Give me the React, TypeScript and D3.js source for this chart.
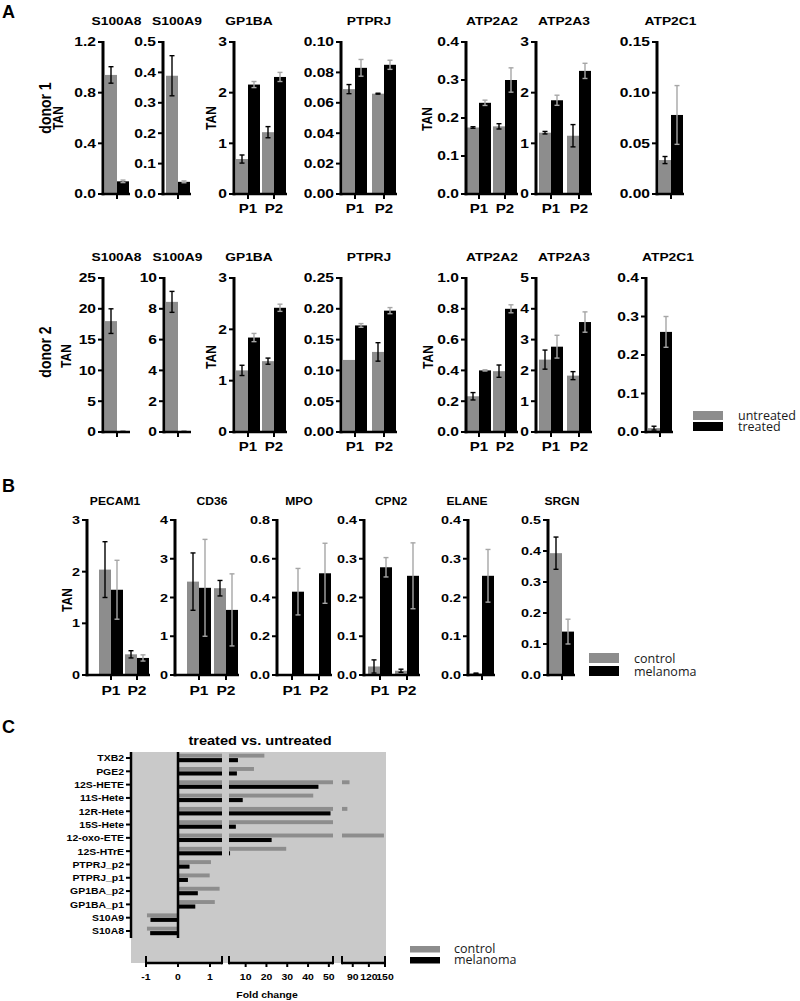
import React from 'react';
import * as d3 from 'd3';

const ARIAL = "'Liberation Sans', Arial, Helvetica, sans-serif";
const SANS = "'Open Sans', 'Liberation Sans', sans-serif";
const GRAY = '#8d8d8d';
const BLACK = '#000000';
const ERR_LIGHT = '#a6a6a6';
const C_BG = '#c9c9c9';

// ---------------- DATA ----------------
const groupsP = ['P1', 'P2'];
const groupsOne = ['pool'];
const seriesA = ['untreated', 'treated'];
const seriesB = ['control', 'melanoma'];

// Panel A, donor 1  (means[group][series], errs[group][series])
const d1S100A8Mean = [[0.94, 0.10]];
const d1S100A8Err = [[0.065, 0.01]];
const d1S100A8Ticks = [0, 0.4, 0.8, 1.2];
const d1S100A9Mean = [[0.389, 0.04]];
const d1S100A9Err = [[0.066, 0.003]];
const d1S100A9Ticks = [0, 0.1, 0.2, 0.3, 0.4, 0.5];
const d1GP1BAMean = [[0.69, 2.16], [1.22, 2.31]];
const d1GP1BAErr = [[0.08, 0.06], [0.11, 0.09]];
const d1GP1BATicks = [0, 1, 2, 3];
const d1PTPRJMean = [[0.069, 0.083], [0.066, 0.085]];
const d1PTPRJErr = [[0.003, 0.0055], [0.0003, 0.003]];
const d1PTPRJTicks = [0, 0.02, 0.04, 0.06, 0.08, 0.10];
const d1ATP2A2Mean = [[0.175, 0.24], [0.178, 0.30]];
const d1ATP2A2Err = [[0.002, 0.007], [0.007, 0.032]];
const d1ATP2A2Ticks = [0, 0.1, 0.2, 0.3, 0.4];
const d1ATP2A3Mean = [[1.21, 1.85], [1.15, 2.43]];
const d1ATP2A3Err = [[0.025, 0.1], [0.22, 0.15]];
const d1ATP2A3Ticks = [0, 1, 2, 3];
const d1ATP2C1Mean = [[0.0335, 0.078]];
const d1ATP2C1Err = [[0.0035, 0.029]];
const d1ATP2C1Ticks = [0, 0.05, 0.10, 0.15];

// Panel A, donor 2
const d2S100A8Mean = [[18.0, 0.15]];
const d2S100A8Err = [[2.0, 0.05]];
const d2S100A8Ticks = [0, 5, 10, 15, 20, 25];
const d2S100A9Mean = [[8.45, 0.06]];
const d2S100A9Err = [[0.68, 0.02]];
const d2S100A9Ticks = [0, 2, 4, 6, 8, 10];
const d2GP1BAMean = [[1.2, 1.84], [1.38, 2.42]];
const d2GP1BAErr = [[0.1, 0.08], [0.06, 0.07]];
const d2GP1BATicks = [0, 1, 2, 3];
const d2PTPRJMean = [[0.117, 0.173], [0.130, 0.197]];
const d2PTPRJErr = [[0, 0.003], [0.015, 0.005]];
const d2PTPRJTicks = [0, 0.05, 0.10, 0.15, 0.20, 0.25];
const d2ATP2A2Mean = [[0.232, 0.40], [0.395, 0.80]];
const d2ATP2A2Err = [[0.024, 0.004], [0.04, 0.026]];
const d2ATP2A2Ticks = [0, 0.2, 0.4, 0.6, 0.8, 1.0];
const d2ATP2A3Mean = [[2.35, 2.77], [1.83, 3.57]];
const d2ATP2A3Err = [[0.31, 0.37], [0.13, 0.33]];
const d2ATP2A3Ticks = [0, 1, 2, 3, 4, 5];
const d2ATP2C1Mean = [[0.01, 0.26]];
const d2ATP2C1Err = [[0.005, 0.04]];
const d2ATP2C1Ticks = [0, 0.1, 0.2, 0.3, 0.4];

// Panel B
const bPECAM1Mean = [[2.04, 1.65], [0.40, 0.33]];
const bPECAM1Err = [[0.54, 0.57], [0.07, 0.06]];
const bPECAM1Ticks = [0, 1, 2, 3];
const bCD36Mean = [[2.41, 2.25], [2.24, 1.68]];
const bCD36Err = [[0.74, 1.25], [0.2, 0.93]];
const bCD36Ticks = [0, 1, 2, 3, 4];
const bMPOMean = [[0, 0.43], [0, 0.525]];
const bMPOErr = [[0, 0.12], [0, 0.155]];
const bMPOTicks = [0, 0.2, 0.4, 0.6, 0.8];
const bCPN2Mean = [[0.022, 0.278], [0.011, 0.256]];
const bCPN2Err = [[0.017, 0.025], [0.004, 0.085]];
const bCPN2Ticks = [0, 0.1, 0.2, 0.3, 0.4];
const bELANEMean = [[0.004, 0.256]];
const bELANEErr = [[0.001, 0.068]];
const bELANETicks = [0, 0.1, 0.2, 0.3, 0.4];
const bSRGNMean = [[0.393, 0.14]];
const bSRGNErr = [[0.052, 0.04]];
const bSRGNTicks = [0, 0.1, 0.2, 0.3, 0.4, 0.5];

// Panel C (fold change)
const cCats = ['TXB2', 'PGE2', '12S-HETE', '11S-Hete', '12R-Hete', '15S-Hete', '12-oxo-ETE', '12S-HTrE',
  'PTPRJ_p2', 'PTPRJ_p1', 'GP1BA_p2', 'GP1BA_p1', 'S10A9', 'S10A8'];
const cControl = [19, 14, 84, 42.5, 80, 52, 148, 29.5, 1.03, 0.99, 1.3, 1.15, -0.97, -0.97];
const cMelanoma = [6.3, 5.8, 45, 8.6, 50.8, 5.3, 22.5, 2.5, 0.36, 0.31, 0.62, 0.54, -0.86, -0.87];
const cDomain1 = [-1, 1.375];
const cDomain2 = [2, 52];
const cDomain3 = [70, 150];
const cTicks1 = [-1, 0, 1];
const cTicks2 = [10, 20, 30, 40, 50];
const cTicks3 = [90, 120, 150];

// ---------------- HELPERS ----------------
function Txt({ x, y, size, sx = 1, anchor = 'middle', weight = 700, family = ARIAL, rotate = 0, dy, fill = '#000', children }: any) {
  const tf = `translate(${x},${y}) scale(${sx},1)` + (rotate ? ` rotate(${rotate})` : '');
  return (
    <text transform={tf} fontSize={size} fontWeight={weight} fontFamily={family} textAnchor={anchor} dy={dy} fill={fill}>
      {children}
    </text>
  );
}

type Row = { yTop: number; yBase: number; titleY: number; labelY: number; tickSize: number; tickSx: number; titleSize: number; titleSx: number; pSize: number; pSx: number };

function BarChart({ spec, row, series }: any) {
  const { title, x0, inset, step, groups, means, errs, ticks, fmt, titleX } = spec;
  const { yTop, yBase, titleY, labelY, tickSize, tickSx, titleSize, titleSx, pSize, pSx } = row as Row;
  const n = groups.length;
  const bandW = 24;
  const xStart = x0 + inset;
  const L = n * step - (step - bandW);
  const xg = d3.scaleBand<string>().domain(groups).range([xStart, xStart + L]).paddingInner(n > 1 ? (step - bandW) / step : 0).paddingOuter(0);
  const xs = d3.scaleBand<string>().domain(series).range([0, xg.bandwidth()]);
  const y = d3.scaleLinear().domain([0, ticks[ticks.length - 1]]).range([yBase, yTop]);
  const xEnd = xStart + L + 1;
  const f = d3.format(fmt);
  const tx = titleX ?? (x0 + xEnd) / 2;
  return (
    <g>
      <Txt x={tx} y={titleY} size={titleSize} sx={titleSx}>{title}</Txt>
      {groups.map((g: string, gi: number) => series.map((s: string, si: number) => {
        const m = means[gi][si];
        const e = errs[gi][si];
        const bw = xs.bandwidth();
        const bx = (xg(g) as number) + (xs(s) as number);
        const cx = bx + bw / 2;
        return (
          <g key={g + s}>
            <rect x={bx} y={y(m)} width={bw} height={Math.max(0, yBase - y(m))} fill={si === 0 ? GRAY : BLACK} />
            {e > 0 && (
              <g stroke={si === 0 ? '#000' : ERR_LIGHT} strokeWidth={1.4}>
                <line x1={cx} x2={cx} y1={y(Math.max(0, m - e))} y2={y(m + e)} />
                <line x1={cx - 2.5} x2={cx + 2.5} y1={y(m + e)} y2={y(m + e)} />
                <line x1={cx - 2.5} x2={cx + 2.5} y1={y(Math.max(0, m - e))} y2={y(Math.max(0, m - e))} />
              </g>
            )}
          </g>
        );
      }))}
      <line x1={x0} x2={x0} y1={yTop - 1} y2={yBase + 1.25} stroke="#000" strokeWidth={3} />
      <line x1={x0 - 1.5} x2={xEnd} y1={yBase} y2={yBase} stroke="#000" strokeWidth={2.5} />
      {ticks.map((t: number) => (
        <g key={t}>
          <line x1={x0 - 5} x2={x0} y1={y(t)} y2={y(t)} stroke="#000" strokeWidth={2} />
          <Txt x={x0 - 7} y={y(t) + tickSize * 0.36} size={tickSize} sx={tickSx} anchor="end">{f(t)}</Txt>
        </g>
      ))}
      {groups.map((g: string) => {
        const gx = (xg(g) as number) + xg.bandwidth() / 2;
        return (
          <g key={g}>
            <line x1={gx} x2={gx} y1={yBase} y2={yBase + 5} stroke="#000" strokeWidth={2} />
            {n > 1 && <Txt x={gx} y={labelY} size={pSize} sx={pSx}>{g}</Txt>}
          </g>
        );
      })}
    </g>
  );
}

function Legend({ x, y, h, gap, labels, textX, size }: any) {
  return (
    <g>
      {labels.map((l: string, i: number) => (
        <g key={l}>
          <rect x={x} y={y + i * (h + gap)} width={30} height={h} fill={i === 0 ? GRAY : BLACK} />
          <Txt x={textX} y={y + i * (h + gap) + h} size={size} anchor="start" weight={400} family={SANS} fill="#1a1a1a">{l}</Txt>
        </g>
      ))}
    </g>
  );
}

// ---------------- LAYOUT ----------------
const rowA1: Row = { yTop: 42, yBase: 194, titleY: 25, labelY: 213, tickSize: 12, tickSx: 1.3, titleSize: 11.5, titleSx: 1.2, pSize: 12, pSx: 1.25 };
const rowA2: Row = { yTop: 278, yBase: 432, titleY: 261, labelY: 451, tickSize: 12, tickSx: 1.3, titleSize: 11.5, titleSx: 1.2, pSize: 12, pSx: 1.25 };
const rowB: Row = { yTop: 520, yBase: 675, titleY: 505, labelY: 695, tickSize: 11.5, tickSx: 1.25, titleSize: 11.5, titleSx: 1.05, pSize: 12, pSx: 1.3 };

const chartsA1 = [
  { title: 'S100A8', x0: 103, inset: 2, step: 26, groups: groupsOne, means: d1S100A8Mean, errs: d1S100A8Err, ticks: d1S100A8Ticks, fmt: '.1f' },
  { title: 'S100A9', x0: 163, inset: 3, step: 26, groups: groupsOne, means: d1S100A9Mean, errs: d1S100A9Err, ticks: d1S100A9Ticks, fmt: '.1f' },
  { title: 'GP1BA', x0: 234, inset: 2, step: 26, groups: groupsP, means: d1GP1BAMean, errs: d1GP1BAErr, ticks: d1GP1BATicks, fmt: 'd', titleX: 249 },
  { title: 'PTPRJ', x0: 341, inset: 2, step: 29, groups: groupsP, means: d1PTPRJMean, errs: d1PTPRJErr, ticks: d1PTPRJTicks, fmt: '.2f' },
  { title: 'ATP2A2', x0: 466, inset: 1, step: 26, groups: groupsP, means: d1ATP2A2Mean, errs: d1ATP2A2Err, ticks: d1ATP2A2Ticks, fmt: '.1f' },
  { title: 'ATP2A3', x0: 536, inset: 3, step: 28, groups: groupsP, means: d1ATP2A3Mean, errs: d1ATP2A3Err, ticks: d1ATP2A3Ticks, fmt: 'd' },
  { title: 'ATP2C1', x0: 657, inset: 2, step: 26, groups: groupsOne, means: d1ATP2C1Mean, errs: d1ATP2C1Err, ticks: d1ATP2C1Ticks, fmt: '.2f' },
];
const chartsA2 = [
  { title: 'S100A8', x0: 103, inset: 2, step: 26, groups: groupsOne, means: d2S100A8Mean, errs: d2S100A8Err, ticks: d2S100A8Ticks, fmt: 'd' },
  { title: 'S100A9', x0: 164, inset: 2, step: 26, groups: groupsOne, means: d2S100A9Mean, errs: d2S100A9Err, ticks: d2S100A9Ticks, fmt: 'd' },
  { title: 'GP1BA', x0: 234, inset: 2, step: 26, groups: groupsP, means: d2GP1BAMean, errs: d2GP1BAErr, ticks: d2GP1BATicks, fmt: 'd', titleX: 249 },
  { title: 'PTPRJ', x0: 341, inset: 2, step: 29, groups: groupsP, means: d2PTPRJMean, errs: d2PTPRJErr, ticks: d2PTPRJTicks, fmt: '.2f' },
  { title: 'ATP2A2', x0: 466, inset: 1, step: 26, groups: groupsP, means: d2ATP2A2Mean, errs: d2ATP2A2Err, ticks: d2ATP2A2Ticks, fmt: '.1f' },
  { title: 'ATP2A3', x0: 536, inset: 3, step: 28, groups: groupsP, means: d2ATP2A3Mean, errs: d2ATP2A3Err, ticks: d2ATP2A3Ticks, fmt: 'd' },
  { title: 'ATP2C1', x0: 646, inset: 2, step: 26, groups: groupsOne, means: d2ATP2C1Mean, errs: d2ATP2C1Err, ticks: d2ATP2C1Ticks, fmt: '.1f', titleX: 668 },
];
const chartsB = [
  { title: 'PECAM1', x0: 87, inset: 12, step: 26, groups: groupsP, means: bPECAM1Mean, errs: bPECAM1Err, ticks: bPECAM1Ticks, fmt: 'd', titleX: 115 },
  { title: 'CD36', x0: 175, inset: 12, step: 27, groups: groupsP, means: bCD36Mean, errs: bCD36Err, ticks: bCD36Ticks, fmt: 'd', titleX: 212 },
  { title: 'MPO', x0: 277, inset: 3, step: 27, groups: groupsP, means: bMPOMean, errs: bMPOErr, ticks: bMPOTicks, fmt: '.1f', titleX: 299 },
  { title: 'CPN2', x0: 364, inset: 4, step: 27, groups: groupsP, means: bCPN2Mean, errs: bCPN2Err, ticks: bCPN2Ticks, fmt: '.1f', titleX: 391 },
  { title: 'ELANE', x0: 468, inset: 2, step: 26, groups: groupsOne, means: bELANEMean, errs: bELANEErr, ticks: bELANETicks, fmt: '.1f', titleX: 467 },
  { title: 'SRGN', x0: 548, inset: 2, step: 26, groups: groupsOne, means: bSRGNMean, errs: bSRGNErr, ticks: bSRGNTicks, fmt: '.1f', titleX: 562 },
];

// ---------------- PANEL C ----------------
function PanelC() {
  const left = 131, right = 386, top = 752, bottom = 963;
  const s1 = d3.scaleLinear().domain(cDomain1).range([146, 222]);
  const s2 = d3.scaleLinear().domain(cDomain2).range([229, 333]);
  const s3 = d3.scaleLinear().domain(cDomain3).range([342, 385]);
  const yc = d3.scalePoint<string>().domain(cCats).range([758, 931]);
  const pieces = (v: number) => {
    if (v < 0) return [[s1(v), s1(0)]];
    const out = [[s1(0), s1(Math.min(v, cDomain1[1]))]];
    if (v > cDomain2[0]) out.push([s2(cDomain2[0]), s2(Math.min(v, cDomain2[1]))]);
    if (v > cDomain3[0]) out.push([s3(cDomain3[0]), s3(Math.min(v, cDomain3[1]))]);
    return out;
  };
  const segs = [
    { s: s1, d: cDomain1, t: cTicks1 },
    { s: s2, d: cDomain2, t: cTicks2 },
    { s: s3, d: cDomain3, t: cTicks3 },
  ];
  return (
    <g>
      <Txt x={2} y={733} size={18} anchor="start">C</Txt>
      <Txt x={260} y={745} size={13} sx={1.12}>treated vs. untreated</Txt>
      <rect x={left} y={top} width={right - left} height={bottom - top} fill={C_BG} />
      {cCats.map((c, i) => {
        const cy = yc(c) as number;
        return (
          <g key={c}>
            {pieces(cControl[i]).map(([a, b], k) => (
              <rect key={'g' + k} x={Math.min(a, b)} y={cy - 4.3} width={Math.abs(b - a)} height={3.9} fill={GRAY} />
            ))}
            {pieces(cMelanoma[i]).map(([a, b], k) => (
              <rect key={'b' + k} x={Math.min(a, b)} y={cy + 0.1} width={Math.abs(b - a)} height={4.1} fill={BLACK} />
            ))}
            <line x1={126} x2={131} y1={cy} y2={cy} stroke="#000" strokeWidth={2} />
            <Txt x={124} y={cy + 3.4} size={9.5} sx={1.1} anchor="end">{c}</Txt>
          </g>
        );
      })}
      <line x1={s1(0)} x2={s1(0)} y1={top} y2={938} stroke="#000" strokeWidth={2.5} />
      <line x1={left} x2={left} y1={top} y2={938} stroke="#000" strokeWidth={2.5} />
      {segs.map((g, i) => (
        <g key={i}>
          <line x1={g.s(g.d[0])} x2={g.s(g.d[1])} y1={bottom} y2={bottom} stroke="#000" strokeWidth={2.5} />
          <line x1={g.s(g.d[0])} x2={g.s(g.d[0])} y1={bottom - 7} y2={bottom + 1.2} stroke="#000" strokeWidth={2} />
          <line x1={g.s(g.d[1])} x2={g.s(g.d[1])} y1={bottom - 7} y2={bottom + 1.2} stroke="#000" strokeWidth={2} />
          {g.t.map((t) => (
            <g key={t}>
              <line x1={g.s(t)} x2={g.s(t)} y1={bottom} y2={bottom + 4} stroke="#000" strokeWidth={2} />
              <Txt x={g.s(t)} y={980} size={9.5} sx={1.1}>{String(t)}</Txt>
            </g>
          ))}
        </g>
      ))}
      <Txt x={267} y={998} size={9.5} sx={1.1}>Fold change</Txt>
      <Legend x={410} y={946} h={6.5} gap={4.5} labels={seriesB} textX={454} size={12.5} />
    </g>
  );
}

export default function App() {
  return (
    <svg width={800} height={1001} viewBox="0 0 800 1001" style={{ position: 'absolute', left: 0, top: 0, display: 'block' }}>
      <rect width={800} height={1001} fill="#fff" />
      {/* Panel A */}
      <Txt x={2} y={18} size={18} anchor="start">A</Txt>
      <Txt x={45} y={108} size={14} sx={1.2} rotate={-90} dy="0.36em">donor 1</Txt>
      <Txt x={58} y={118} size={12} sx={1.2} rotate={-90} dy="0.36em">TAN</Txt>
      <Txt x={211} y={118} size={12} sx={1.2} rotate={-90} dy="0.36em">TAN</Txt>
      <Txt x={427} y={119} size={12} sx={1.2} rotate={-90} dy="0.36em">TAN</Txt>
      {chartsA1.map((c) => <BarChart key={'a1' + c.title} spec={c} row={rowA1} series={seriesA} />)}

      <Txt x={45} y={352} size={14} sx={1.2} rotate={-90} dy="0.36em">donor 2</Txt>
      <Txt x={66} y={356} size={12} sx={1.2} rotate={-90} dy="0.36em">TAN</Txt>
      <Txt x={211} y={357} size={12} sx={1.2} rotate={-90} dy="0.36em">TAN</Txt>
      <Txt x={428} y={357} size={12} sx={1.2} rotate={-90} dy="0.36em">TAN</Txt>
      {chartsA2.map((c) => <BarChart key={'a2' + c.title} spec={c} row={rowA2} series={seriesA} />)}
      <Legend x={693} y={411} h={9} gap={2} labels={seriesA} textX={738} size={12.5} />

      {/* Panel B */}
      <Txt x={2} y={492} size={18} anchor="start">B</Txt>
      <Txt x={67} y={600} size={12} sx={1.2} rotate={-90} dy="0.36em">TAN</Txt>
      {chartsB.map((c) => <BarChart key={'b' + c.title} spec={c} row={rowB} series={seriesB} />)}
      <Legend x={589} y={653} h={10} gap={3} labels={seriesB} textX={634} size={12.5} />

      {/* Panel C */}
      <PanelC />
    </svg>
  );
}
